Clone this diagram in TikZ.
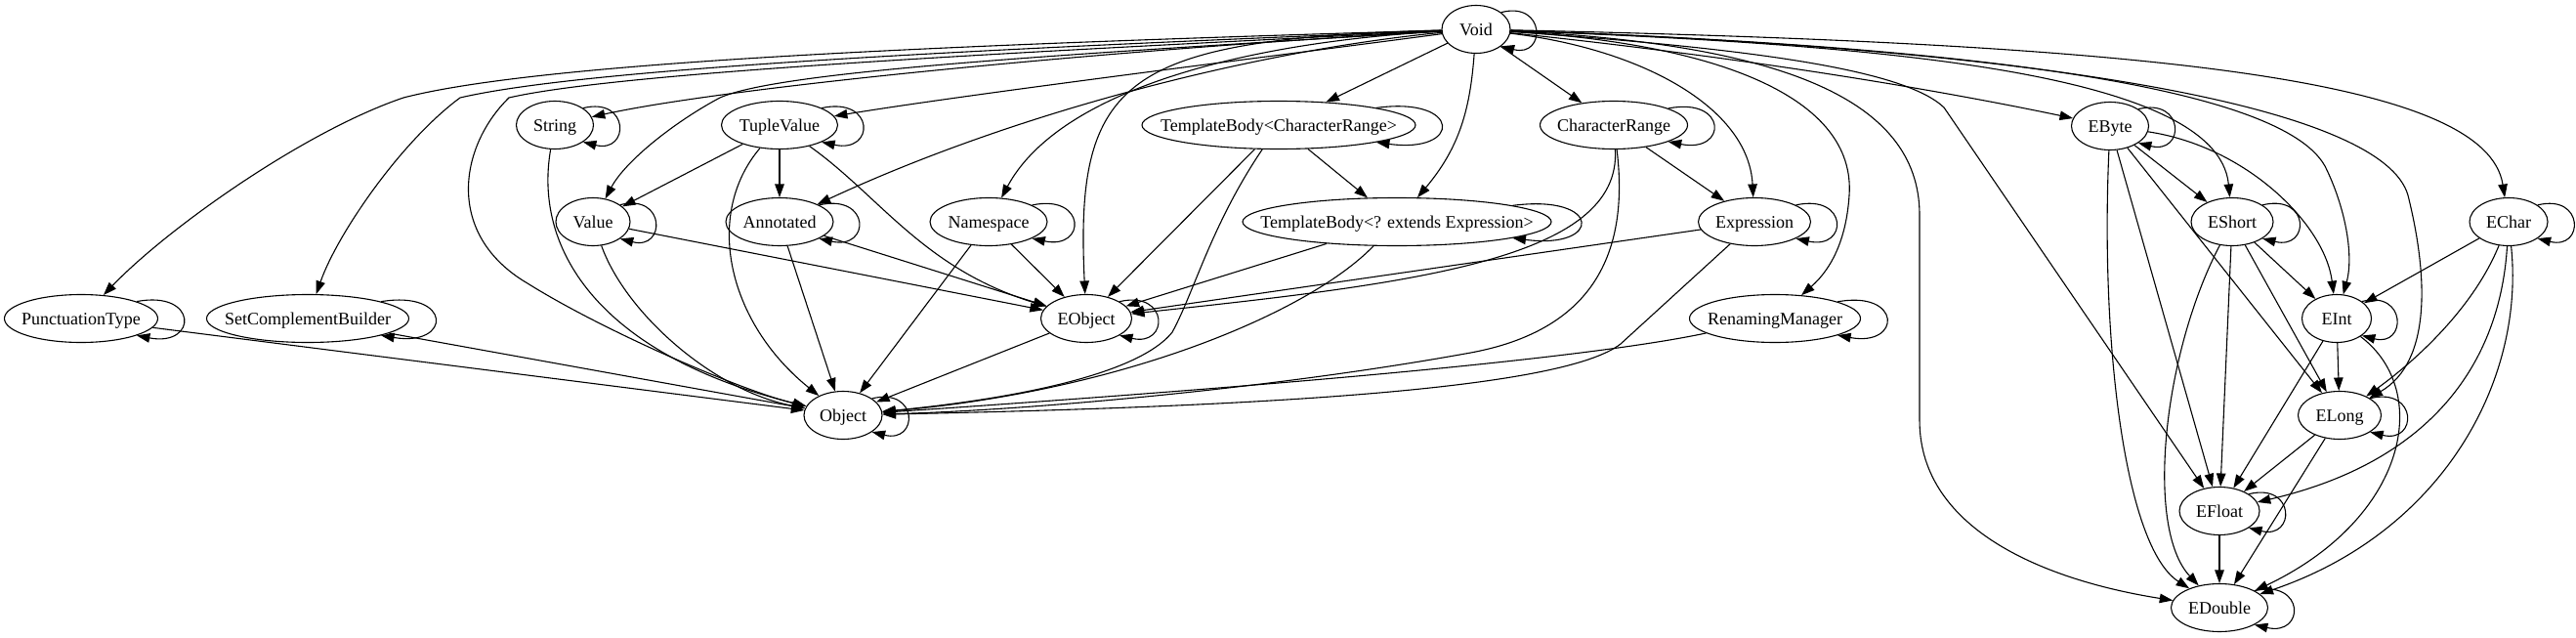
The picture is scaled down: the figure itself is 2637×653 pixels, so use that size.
\documentclass[tikz,border=0pt]{standalone}
\usepackage{fontspec}
\setmainfont{Liberation Serif}
\usetikzlibrary{arrows.meta,shapes.geometric}

\newcommand{\cname}[1]{\makebox[0pt]{#1}}

\begin{document}
\begin{tikzpicture}[x=1pt, y=-1pt,
    cls/.style={ellipse, draw, line width=1.1pt, inner sep=0pt, minimum height=49pt, text height=12pt, text depth=0pt, font=\fontsize{18}{20}\selectfont},
    dep/.style={-{Triangle[length=13.5pt,width=9.5pt]}, line width=1.1pt},
    selfloop/.style 2 args={to path={(\tikztostart.#1) .. controls +(#2,-12) and +(#2,12) .. (\tikztostart.-#1)}}
]
    \useasboundingbox (0,0) rectangle (2637,653);

    % Rank 0 and 1
    \node[cls, minimum width=70pt] (void) at (1511,30) {\cname{Void}};
    \node[cls, minimum width=79pt] (string) at (568,128) {\cname{String}};
    \node[cls, minimum width=119pt] (tuplevalue) at (798,128) {\cname{TupleValue}};
    \node[cls, minimum width=280pt] (tbcr) at (1309,128) {\cname{TemplateBody<CharacterRange>}};
    \node[cls, minimum width=151pt] (charrange) at (1652,128) {\cname{CharacterRange}};
    \node[cls, minimum width=79pt] (ebyte) at (2160,129) {\cname{EByte}};

    % Rank 2
    \node[cls, minimum width=76pt] (value) at (607,227) {\cname{Value}};
    \node[cls, minimum width=110pt] (annotated) at (798,227) {\cname{Annotated}};
    \node[cls, minimum width=120pt] (namespace) at (1012,227) {\cname{Namespace}};
    \node[cls, minimum width=316pt] (tbexpr) at (1430,227) {\cname{TemplateBody<? extends Expression>}};
    \node[cls, minimum width=115pt] (expression) at (1796,227) {\cname{Expression}};
    \node[cls, minimum width=84pt] (eshort) at (2285,227) {\cname{EShort}};
    \node[cls, minimum width=80pt] (echar) at (2568,227) {\cname{EChar}};

    % Rank 3
    \node[cls, minimum width=157pt] (punct) at (83,326) {\cname{PunctuationType}};
    \node[cls, minimum width=207pt] (setcomp) at (315,326) {\cname{SetComplementBuilder}};
    \node[cls, minimum width=93pt] (eobject) at (1112,326) {\cname{EObject}};
    \node[cls, minimum width=175pt] (renaming) at (1817,326) {\cname{RenamingManager}};
    \node[cls, minimum width=71pt] (eint) at (2392,326) {\cname{EInt}};

    % Rank 4 to 6
    \node[cls, minimum width=80pt] (object) at (863,425) {\cname{Object}};
    \node[cls, minimum width=85pt] (elong) at (2395,425) {\cname{ELong}};
    \node[cls, minimum width=82pt] (efloat) at (2272,523) {\cname{EFloat}};
    \node[cls, minimum width=99pt] (edouble) at (2272,622) {\cname{EDouble}};

    % Self loops
    \draw[dep] (void) to[selfloop={34}{46}] (void);
    \draw[dep] (string) to[selfloop={31}{48}] (string);
    \draw[dep] (tuplevalue) to[selfloop={22}{55}] (tuplevalue);
    \draw[dep] (tbcr) to[selfloop={10}{88}] (tbcr);
    \draw[dep] (charrange) to[selfloop={17}{61}] (charrange);
    \draw[dep] (ebyte) to[selfloop={31}{48}] (ebyte);
    \draw[dep] (value) to[selfloop={32}{47}] (value);
    \draw[dep] (annotated) to[selfloop={23}{53}] (annotated);
    \draw[dep] (namespace) to[selfloop={21}{56}] (namespace);
    \draw[dep] (tbexpr) to[selfloop={8.5}{92}] (tbexpr);
    \draw[dep] (expression) to[selfloop={22}{54}] (expression);
    \draw[dep] (eshort) to[selfloop={29}{49}] (eshort);
    \draw[dep] (echar) to[selfloop={30}{48}] (echar);
    \draw[dep] (punct) to[selfloop={17}{63}] (punct);
    \draw[dep] (setcomp) to[selfloop={13}{73}] (setcomp);
    \draw[dep] (eobject) to[selfloop={27}{51}] (eobject);
    \draw[dep] (renaming) to[selfloop={15}{66}] (renaming);
    \draw[dep] (eint) to[selfloop={34}{46}] (eint);
    \draw[dep] (object) to[selfloop={30}{48}] (object);
    \draw[dep] (elong) to[selfloop={29}{49}] (elong);
    \draw[dep] (efloat) to[selfloop={30}{48}] (efloat);
    \draw[dep] (edouble) to[selfloop={26}{52}] (edouble);

    % Void, left side
    \draw[dep] (void) .. controls (1000,45) and (560,62) .. (413,100) .. controls (310,135) and (170,235) .. (punct);
    \draw[dep] (void) .. controls (1000,50) and (600,70) .. (471,100) .. controls (410,145) and (345,240) .. (setcomp);
    \draw[dep] (void) .. controls (1000,55) and (630,75) .. (521,100) .. controls (470,150) and (455,240) .. (540,290) .. controls (620,340) and (760,400) .. (object);
    \draw[dep] (void) .. controls (1150,50) and (750,88) .. (string);
    \draw[dep] (void) .. controls (1100,55) and (800,72) .. (737,100) .. controls (690,125) and (640,165) .. (value);
    \draw[dep] (void) .. controls (1300,58) and (1000,95) .. (tuplevalue);
    \draw[dep] (void) .. controls (1300,50) and (1050,110) .. (annotated);
    \draw[dep] (void) .. controls (1250,45) and (1080,100) .. (namespace);
    \draw[dep] (void) .. controls (1150,40) and (1100,80) .. (eobject);
    \draw[dep] (void) -- (tbcr);
    \draw[dep] (void) .. controls (1505,110) and (1495,150) .. (tbexpr);
    \draw[dep] (void) -- (charrange);

    % Void, right side
    \draw[dep] (void) .. controls (1680,50) and (1790,110) .. (expression);
    \draw[dep] (void) .. controls (1760,45) and (1900,100) .. (1893,200) .. controls (1890,245) and (1875,275) .. (renaming);
    \draw[dep] (void) .. controls (1820,45) and (1965,100) .. (1965,220) -- (1965,430) .. controls (1965,545) and (2100,595) .. (edouble);
    \draw[dep] (void) .. controls (1800,50) and (1950,72) .. (1990,110) -- (efloat);
    \draw[dep] (void) .. controls (1750,55) and (1950,85) .. (ebyte);
    \draw[dep] (void) .. controls (1900,45) and (2270,70) .. (eshort);
    \draw[dep] (void) .. controls (1950,45) and (2330,80) .. (2380,170) .. controls (2400,210) and (2410,260) .. (eint);
    \draw[dep] (void) .. controls (2100,50) and (2440,110) .. (2465,200) .. controls (2485,280) and (2490,370) .. (elong);
    \draw[dep] (void) .. controls (2200,45) and (2545,80) .. (echar);

    % Middle part
    \draw[dep] (string) .. controls (545,260) and (620,365) .. (object);
    \draw[dep] (tuplevalue) -- (value);
    \draw[dep] (tuplevalue) -- (annotated);
    \draw[dep] (tuplevalue) .. controls (720,220) and (745,330) .. (object);
    \draw[dep] (tuplevalue) .. controls (900,200) and (945,275) .. (eobject);
    \draw[dep] (value) .. controls (640,320) and (730,400) .. (object);
    \draw[dep] (value) -- (eobject);
    \draw[dep] (annotated) -- (object);
    \draw[dep] (annotated) -- (eobject);
    \draw[dep] (namespace) -- (eobject);
    \draw[dep] (namespace) -- (object);
    \draw[dep] (tbcr) -- (tbexpr);
    \draw[dep] (tbcr) -- (eobject);
    \draw[dep] (tbcr) .. controls (1240,230) and (1222,300) .. (1200,340) .. controls (1160,390) and (1000,412) .. (object);
    \draw[dep] (tbexpr) -- (eobject);
    \draw[dep] (tbexpr) .. controls (1340,320) and (1150,400) .. (object);
    \draw[dep] (charrange) -- (expression);
    \draw[dep] (charrange) .. controls (1660,265) and (1450,290) .. (eobject);
    \draw[dep] (charrange) .. controls (1672,290) and (1600,345) .. (1500,362) .. controls (1300,398) and (1050,420) .. (object);
    \draw[dep] (expression) -- (eobject);
    \draw[dep] (expression) -- (1659,352) .. controls (1600,398) and (1300,416) .. (object);
    \draw[dep] (renaming) .. controls (1600,372) and (1200,402) .. (object);
    \draw[dep] (punct) -- (object);
    \draw[dep] (setcomp) -- (object);
    \draw[dep] (eobject) -- (object);

    % Number types
    \draw[dep] (ebyte) -- (eshort);
    \draw[dep] (ebyte) .. controls (2300,150) and (2380,230) .. (eint);
    \draw[dep] (ebyte) -- (elong);
    \draw[dep] (ebyte) -- (efloat);
    \draw[dep] (ebyte) .. controls (2150,350) and (2175,560) .. (edouble);
    \draw[dep] (eshort) -- (eint);
    \draw[dep] (eshort) -- (elong);
    \draw[dep] (eshort) -- (efloat);
    \draw[dep] (eshort) .. controls (2215,360) and (2195,540) .. (edouble);
    \draw[dep] (echar) -- (eint);
    \draw[dep] (echar) .. controls (2530,320) and (2465,375) .. (elong);
    \draw[dep] (echar) .. controls (2560,360) and (2500,470) .. (efloat);
    \draw[dep] (echar) .. controls (2585,390) and (2500,545) .. (edouble);
    \draw[dep] (eint) -- (elong);
    \draw[dep] (eint) -- (efloat);
    \draw[dep] (eint) .. controls (2490,400) and (2465,530) .. (edouble);
    \draw[dep] (elong) -- (efloat);
    \draw[dep] (elong) -- (edouble);
    \draw[dep] (efloat) -- (edouble);
\end{tikzpicture}
\end{document}
